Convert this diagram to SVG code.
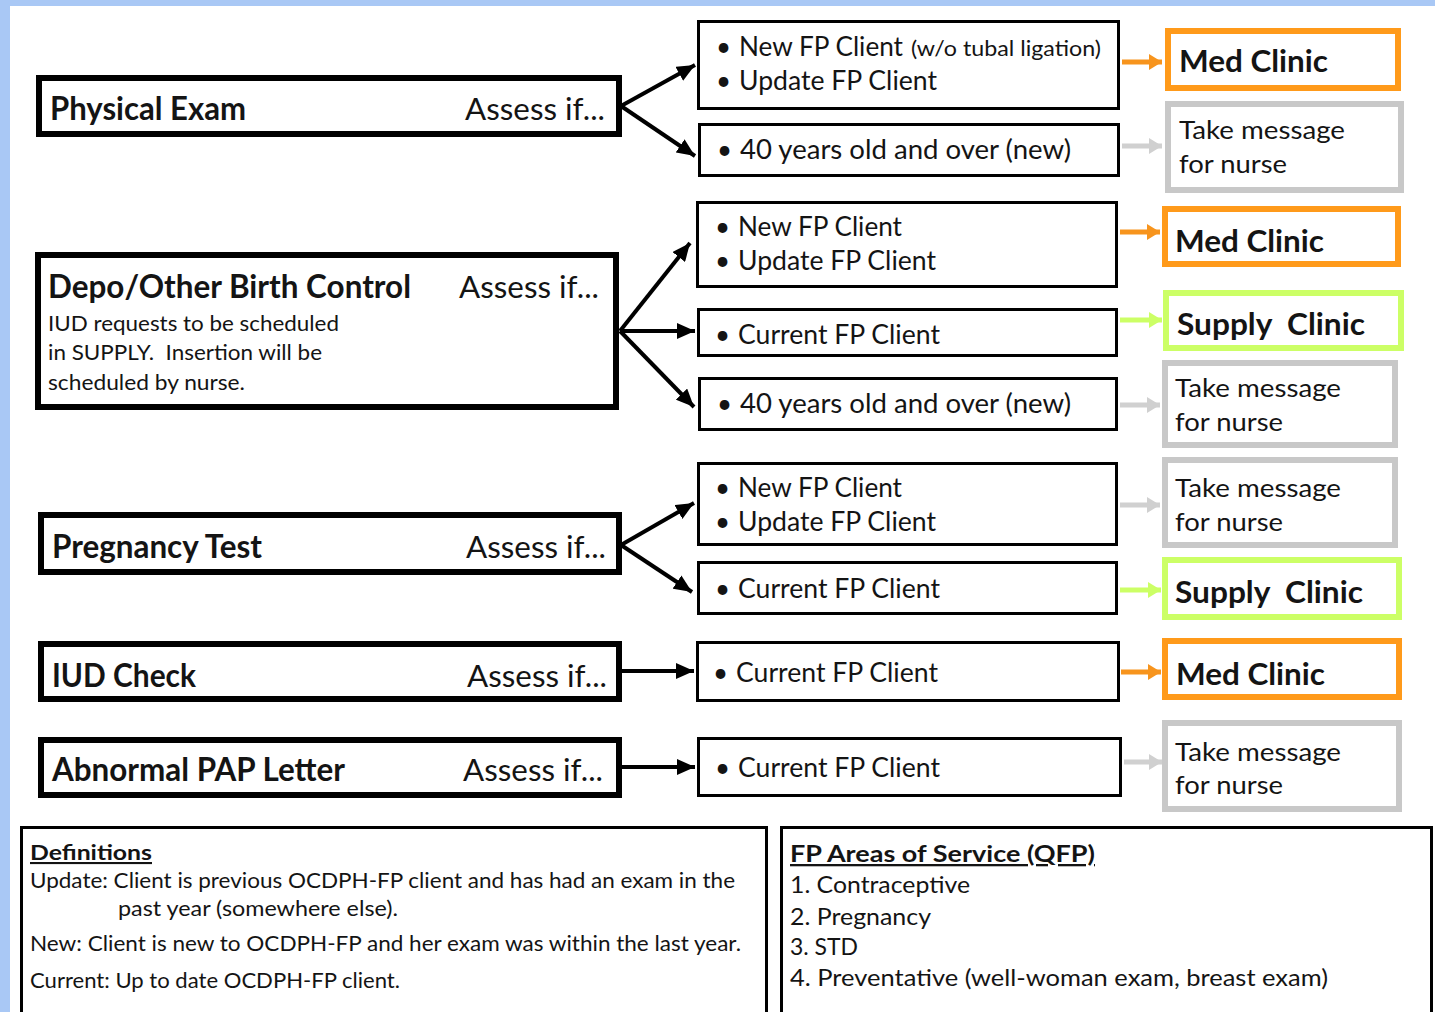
<svg xmlns="http://www.w3.org/2000/svg" width="1435" height="1012" viewBox="0 0 1435 1012">
<defs>
<style>
text{font-family:Lato,"Open Sans","Liberation Sans",sans-serif;fill:#141414}
.t{font-size:33px;font-weight:bold}
.as{font-size:30px}
.li{font-size:26px}
.sm{font-size:21px}
.cl{font-size:31px;font-weight:bold}
.tm{font-size:25px}
.df{font-size:21px}
.hd{font-weight:bold;text-decoration:underline}
.fp{font-size:23px}
.bk{fill:#fff;stroke:#000;stroke-width:6}
.bx{fill:#fff;stroke:#000;stroke-width:3}
.or{fill:#fff;stroke:#ff9a1a;stroke-width:6}
.gr{fill:#fff;stroke:#c8c8c8;stroke-width:6}
.gn{fill:#fff;stroke:#ccff66;stroke-width:6}
.cb{stroke:#000;stroke-width:4;fill:none}
.co{stroke:#f7941d;stroke-width:5;fill:none}
.cg{stroke:#d0d0d0;stroke-width:5;fill:none}
.cn{stroke:#ccff66;stroke-width:5;fill:none}
</style>
<marker id="mb" markerUnits="userSpaceOnUse" markerWidth="20" markerHeight="16" refX="18" refY="8" orient="auto"><path d="M0,0 L18,8 L0,16 z" fill="#000"/></marker>
<marker id="mo" markerUnits="userSpaceOnUse" markerWidth="14" markerHeight="16" refX="13" refY="8" orient="auto"><path d="M0,0 L13,8 L0,16 z" fill="#f7941d"/></marker>
<marker id="mg" markerUnits="userSpaceOnUse" markerWidth="14" markerHeight="16" refX="13" refY="8" orient="auto"><path d="M0,0 L13,8 L0,16 z" fill="#d0d0d0"/></marker>
<marker id="mn" markerUnits="userSpaceOnUse" markerWidth="14" markerHeight="16" refX="13" refY="8" orient="auto"><path d="M0,0 L13,8 L0,16 z" fill="#ccff66"/></marker>
</defs>
<rect x="0" y="0" width="1435" height="1012" fill="#fff"/>
<rect x="0" y="0" width="1435" height="6" fill="#a9c8f5"/>
<rect x="0" y="0" width="10" height="1012" fill="#a9c8f5"/>

<g id="connectors">
<line class="cb" x1="621" y1="106" x2="695" y2="65" marker-end="url(#mb)"/>
<line class="cb" x1="621" y1="106" x2="695" y2="156" marker-end="url(#mb)"/>
<line class="cb" x1="620" y1="331" x2="690" y2="243" marker-end="url(#mb)"/>
<line class="cb" x1="620" y1="331" x2="695" y2="331" marker-end="url(#mb)"/>
<line class="cb" x1="620" y1="331" x2="694" y2="407" marker-end="url(#mb)"/>
<line class="cb" x1="621" y1="545" x2="694" y2="503" marker-end="url(#mb)"/>
<line class="cb" x1="621" y1="545" x2="692" y2="592" marker-end="url(#mb)"/>
<line class="cb" x1="622" y1="671" x2="694" y2="671" marker-end="url(#mb)"/>
<line class="cb" x1="622" y1="767" x2="695" y2="767" marker-end="url(#mb)"/>
<line class="co" x1="1122" y1="62" x2="1162" y2="62" marker-end="url(#mo)"/>
<line class="co" x1="1120" y1="232" x2="1160" y2="232" marker-end="url(#mo)"/>
<line class="co" x1="1121" y1="672" x2="1161" y2="672" marker-end="url(#mo)"/>
<line class="cg" x1="1122" y1="146" x2="1162" y2="146" marker-end="url(#mg)"/>
<line class="cg" x1="1120" y1="405" x2="1160" y2="405" marker-end="url(#mg)"/>
<line class="cg" x1="1120" y1="505" x2="1160" y2="505" marker-end="url(#mg)"/>
<line class="cg" x1="1124" y1="762" x2="1162" y2="762" marker-end="url(#mg)"/>
<line class="cn" x1="1120" y1="320" x2="1162" y2="320" marker-end="url(#mn)"/>
<line class="cn" x1="1120" y1="590" x2="1161" y2="590" marker-end="url(#mn)"/>
</g>

<g id="physical-exam">
<rect class="bk" x="39" y="78" width="580" height="56"/>
<text class="t" x="50" y="120" textLength="196" lengthAdjust="spacingAndGlyphs">Physical Exam</text>
<text class="as" x="465" y="120" textLength="140" lengthAdjust="spacingAndGlyphs">Assess if...</text>
</g>
<g id="depo">
<rect class="bk" x="38" y="255" width="578" height="152"/>
<text class="t" x="48" y="298" textLength="363" lengthAdjust="spacingAndGlyphs">Depo/Other Birth Control</text>
<text class="as" x="459" y="298" textLength="140" lengthAdjust="spacingAndGlyphs">Assess if...</text>
<text class="sm" x="48" y="331" textLength="291" lengthAdjust="spacingAndGlyphs">IUD requests to be scheduled</text>
<text class="sm" x="48" y="360" textLength="274" lengthAdjust="spacingAndGlyphs" xml:space="preserve">in SUPPLY.  Insertion will be</text>
<text class="sm" x="48" y="390" textLength="197" lengthAdjust="spacingAndGlyphs">scheduled by nurse.</text>
</g>
<g id="pregnancy-test">
<rect class="bk" x="41" y="515" width="578" height="57"/>
<text class="t" x="52" y="558" textLength="210" lengthAdjust="spacingAndGlyphs">Pregnancy Test</text>
<text class="as" x="466" y="558" textLength="140" lengthAdjust="spacingAndGlyphs">Assess if...</text>
</g>
<g id="iud-check">
<rect class="bk" x="41" y="644" width="578" height="55"/>
<text class="t" x="52" y="687" textLength="144" lengthAdjust="spacingAndGlyphs">IUD Check</text>
<text class="as" x="467" y="687" textLength="140" lengthAdjust="spacingAndGlyphs">Assess if...</text>
</g>
<g id="abnormal-pap">
<rect class="bk" x="41" y="740" width="578" height="55"/>
<text class="t" x="52" y="781" textLength="293" lengthAdjust="spacingAndGlyphs">Abnormal PAP Letter</text>
<text class="as" x="463" y="781" textLength="140" lengthAdjust="spacingAndGlyphs">Assess if...</text>
</g>

<g id="pe-new-update">
<rect class="bx" x="698.5" y="21.5" width="420" height="87"/>
<text class="li" x="716" y="56">•</text>
<text class="li" x="739" y="56" textLength="164" lengthAdjust="spacingAndGlyphs">New FP Client</text>
<text class="sm" x="911" y="56" textLength="190" lengthAdjust="spacingAndGlyphs">(w/o tubal ligation)</text>
<text class="li" x="716" y="90">•</text>
<text class="li" x="739" y="90" textLength="198" lengthAdjust="spacingAndGlyphs">Update FP Client</text>
</g>
<g id="pe-40">
<rect class="bx" x="699.5" y="124.5" width="419" height="51"/>
<text class="li" x="717" y="159">•</text>
<text class="li" x="740" y="159" textLength="331" lengthAdjust="spacingAndGlyphs">40 years old and over (new)</text>
</g>
<g id="depo-new-update">
<rect class="bx" x="697.5" y="202.5" width="419" height="84"/>
<text class="li" x="715" y="236">•</text>
<text class="li" x="738" y="236" textLength="164" lengthAdjust="spacingAndGlyphs">New FP Client</text>
<text class="li" x="715" y="270">•</text>
<text class="li" x="738" y="270" textLength="198" lengthAdjust="spacingAndGlyphs">Update FP Client</text>
</g>
<g id="depo-current">
<rect class="bx" x="698.5" y="309.5" width="418" height="46"/>
<text class="li" x="715" y="344">•</text>
<text class="li" x="738" y="344" textLength="202" lengthAdjust="spacingAndGlyphs">Current FP Client</text>
</g>
<g id="depo-40">
<rect class="bx" x="699.5" y="378.5" width="417" height="51"/>
<text class="li" x="717" y="413">•</text>
<text class="li" x="740" y="413" textLength="331" lengthAdjust="spacingAndGlyphs">40 years old and over (new)</text>
</g>
<g id="preg-new-update">
<rect class="bx" x="698.5" y="463.5" width="418" height="81"/>
<text class="li" x="715" y="497">•</text>
<text class="li" x="738" y="497" textLength="164" lengthAdjust="spacingAndGlyphs">New FP Client</text>
<text class="li" x="715" y="531">•</text>
<text class="li" x="738" y="531" textLength="198" lengthAdjust="spacingAndGlyphs">Update FP Client</text>
</g>
<g id="preg-current">
<rect class="bx" x="698.5" y="562.5" width="418" height="51"/>
<text class="li" x="715" y="598">•</text>
<text class="li" x="738" y="598" textLength="202" lengthAdjust="spacingAndGlyphs">Current FP Client</text>
</g>
<g id="iud-current">
<rect class="bx" x="697.5" y="642.5" width="421" height="58"/>
<text class="li" x="713" y="682">•</text>
<text class="li" x="736" y="682" textLength="202" lengthAdjust="spacingAndGlyphs">Current FP Client</text>
</g>
<g id="pap-current">
<rect class="bx" x="698.5" y="738.5" width="422" height="57"/>
<text class="li" x="715" y="777">•</text>
<text class="li" x="738" y="777" textLength="202" lengthAdjust="spacingAndGlyphs">Current FP Client</text>
</g>

<g id="med-clinic-1">
<rect class="or" x="1168" y="31" width="230" height="57"/>
<text class="cl" x="1179" y="72" textLength="149" lengthAdjust="spacingAndGlyphs">Med Clinic</text>
</g>
<g id="take-message-1">
<rect class="gr" x="1168" y="104" width="233" height="86"/>
<text class="tm" x="1179" y="139" textLength="166" lengthAdjust="spacingAndGlyphs">Take message</text>
<text class="tm" x="1179" y="173" textLength="108" lengthAdjust="spacingAndGlyphs">for nurse</text>
</g>
<g id="med-clinic-2">
<rect class="or" x="1165" y="209" width="233" height="55"/>
<text class="cl" x="1175" y="252" textLength="149" lengthAdjust="spacingAndGlyphs">Med Clinic</text>
</g>
<g id="supply-clinic-1">
<rect class="gn" x="1166" y="293" width="235" height="55"/>
<text class="cl" x="1177" y="335" textLength="188" lengthAdjust="spacingAndGlyphs" xml:space="preserve">Supply  Clinic</text>
</g>
<g id="take-message-2">
<rect class="gr" x="1165" y="363" width="230" height="82"/>
<text class="tm" x="1175" y="397" textLength="166" lengthAdjust="spacingAndGlyphs">Take message</text>
<text class="tm" x="1175" y="431" textLength="108" lengthAdjust="spacingAndGlyphs">for nurse</text>
</g>
<g id="take-message-3">
<rect class="gr" x="1165" y="460" width="230" height="85"/>
<text class="tm" x="1175" y="497" textLength="166" lengthAdjust="spacingAndGlyphs">Take message</text>
<text class="tm" x="1175" y="531" textLength="108" lengthAdjust="spacingAndGlyphs">for nurse</text>
</g>
<g id="supply-clinic-2">
<rect class="gn" x="1165" y="560" width="234" height="57"/>
<text class="cl" x="1175" y="603" textLength="188" lengthAdjust="spacingAndGlyphs" xml:space="preserve">Supply  Clinic</text>
</g>
<g id="med-clinic-3">
<rect class="or" x="1165" y="641" width="234" height="56"/>
<text class="cl" x="1176" y="685" textLength="149" lengthAdjust="spacingAndGlyphs">Med Clinic</text>
</g>
<g id="take-message-4">
<rect class="gr" x="1165" y="723" width="234" height="86"/>
<text class="tm" x="1175" y="761" textLength="166" lengthAdjust="spacingAndGlyphs">Take message</text>
<text class="tm" x="1175" y="794" textLength="108" lengthAdjust="spacingAndGlyphs">for nurse</text>
</g>

<g id="definitions">
<rect class="bx" x="21.5" y="827.5" width="745" height="200"/>
<text class="df hd" x="30" y="860" textLength="122" lengthAdjust="spacingAndGlyphs">Definitions</text>
<text class="df" x="30" y="888" textLength="705" lengthAdjust="spacingAndGlyphs">Update: Client is previous OCDPH-FP client and has had an exam in the</text>
<text class="df" x="118" y="916" textLength="280" lengthAdjust="spacingAndGlyphs">past year (somewhere else).</text>
<text class="df" x="30" y="951" textLength="711" lengthAdjust="spacingAndGlyphs">New: Client is new to OCDPH-FP and her exam was within the last year.</text>
<text class="df" x="30" y="988" textLength="370" lengthAdjust="spacingAndGlyphs">Current: Up to date OCDPH-FP client.</text>
</g>
<g id="fp-areas">
<rect class="bx" x="781.5" y="827.5" width="650" height="200"/>
<text class="fp hd" x="790" y="862" textLength="305" lengthAdjust="spacingAndGlyphs">FP Areas of Service (QFP)</text>
<text class="fp" x="790" y="893" textLength="180" lengthAdjust="spacingAndGlyphs">1. Contraceptive</text>
<text class="fp" x="790" y="925" textLength="141" lengthAdjust="spacingAndGlyphs">2. Pregnancy</text>
<text class="fp" x="790" y="955" textLength="68" lengthAdjust="spacingAndGlyphs">3. STD</text>
<text class="fp" x="790" y="986" textLength="538" lengthAdjust="spacingAndGlyphs">4. Preventative (well-woman exam, breast exam)</text>
</g>
</svg>
